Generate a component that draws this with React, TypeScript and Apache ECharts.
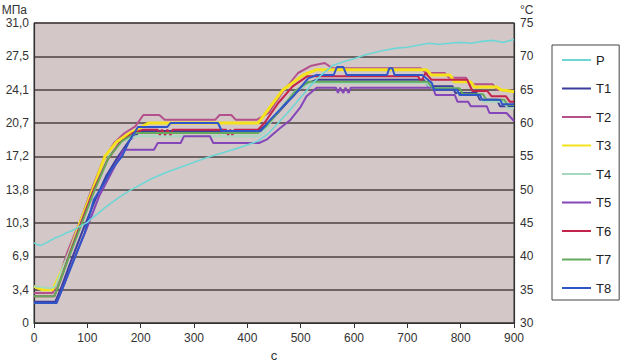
import React, { useEffect, useRef } from "react";
import * as echarts from "echarts";

// ---- data (time, value) ----
const xTicks = [0, 100, 200, 300, 400, 500, 600, 700, 800, 900];
const leftTickLabels = ["0", "3,4", "6,9", "10,3", "13,8", "17,2", "20,7", "24,1", "27,5", "31,0"];
const rightTickLabels = ["30", "35", "40", "45", "50", "55", "60", "65", "70", "75"];

// Pressure, MPa (left axis)
const P: [number, number][] = [
  [0, 8.3], [6, 8.1], [12, 8.0], [20, 8.2], [30, 8.5], [40, 8.8], [50, 9.0], [60, 9.3], [70, 9.5], [80, 9.8],
  [90, 10.1], [100, 10.4], [110, 10.9], [120, 11.3], [130, 11.8], [140, 12.2], [160, 13.0], [180, 13.7],
  [200, 14.3], [220, 14.9], [250, 15.6], [280, 16.2], [300, 16.6], [330, 17.2], [360, 17.7], [390, 18.2],
  [420, 18.8], [440, 19.6], [460, 20.8], [480, 22.0], [500, 23.3], [520, 24.6], [540, 25.7], [560, 26.6],
  [580, 27.0], [600, 27.3], [620, 27.7], [650, 28.1], [680, 28.4], [700, 28.5], [720, 28.7], [740, 28.9],
  [760, 28.8], [780, 28.9], [800, 29.0], [820, 28.9], [840, 29.1], [860, 29.2], [880, 29.0], [900, 29.3],
];

// Temperatures, °C (right axis)
const T1: [number, number][] = [
  [0, 33.2], [40, 33.2], [52, 35.5], [68, 39], [92, 44], [115, 48.5], [135, 52], [158, 55], [180, 57.5],
  [200, 58.8], [420, 58.8], [440, 60], [465, 62.2], [490, 64.5], [515, 66], [530, 66.5], [730, 66.5],
  [740, 65.5], [785, 65.5], [790, 64.5], [830, 64.5], [836, 63.5], [868, 63.5], [874, 62.5], [900, 62.5],
];
const T2: [number, number][] = [
  [0, 34.5], [35, 34.5], [48, 37], [62, 40.5], [85, 45], [108, 50], [130, 54.5], [150, 57], [170, 58.5],
  [190, 59.5], [205, 61.2], [235, 61.2], [245, 60.5], [340, 60.5], [348, 61.2], [370, 61.2], [378, 60.5],
  [418, 60.5], [440, 61.5], [465, 64.5], [495, 67.5], [520, 68.6], [545, 69], [560, 68.2], [725, 68.2],
  [735, 67.5], [770, 67.5], [778, 66.8], [810, 66.8], [818, 65.8], [860, 65.8], [868, 65], [900, 64.8],
];
const T3: [number, number][] = [
  [0, 35.5], [15, 35], [35, 35], [50, 37.5], [64, 40], [86, 45], [110, 50], [133, 55], [155, 57.2],
  [180, 58.5], [200, 59.3], [215, 60], [420, 60], [424, 60.4], [467, 65], [505, 67.2], [530, 68],
  [736, 68], [745, 67.2], [780, 67.2], [788, 66.2], [818, 66.2], [826, 65.4], [868, 65.4], [875, 65], [900, 64.7],
];
const T4: [number, number][] = [
  [0, 35.5], [30, 35.2], [40, 35.5], [55, 38.5], [70, 41.5], [90, 45.5], [115, 50.5], [140, 55], [165, 57.2],
  [190, 58], [420, 58], [430, 58.5], [460, 62], [490, 64.8], [520, 66], [735, 66], [745, 65.2], [790, 65.2],
  [798, 64.2], [835, 64.2], [842, 63.2], [880, 63.2], [888, 62.2], [900, 62.2],
];
const T5: [number, number][] = [
  [0, 33], [42, 33], [55, 35.5], [72, 39], [98, 44], [122, 49], [148, 53], [168, 56], [225, 56], [232, 57],
  [275, 57], [281, 58], [330, 58], [336, 57], [422, 57], [436, 57.5], [461, 59.2], [480, 60.4], [499, 62.3],
  [511, 64], [530, 65.3], [566, 65.3], [570, 64.5], [574, 65.3], [580, 64.5], [584, 65.3], [590, 64.5],
  [594, 65.3], [748, 65.3], [753, 64.2], [789, 64.2], [794, 63.2], [814, 63.2], [819, 62.5], [849, 62.5],
  [854, 61.5], [886, 61.5], [900, 60.3],
];
const T6: [number, number][] = [
  [0, 34], [38, 34], [50, 36.5], [65, 40], [88, 45], [112, 50], [138, 54.5], [160, 57], [185, 58.5],
  [205, 59], [232, 59], [236, 58.2], [240, 59], [246, 58.2], [250, 59], [256, 58.2], [260, 59], [360, 59],
  [364, 58.2], [368, 59], [372, 58.2], [376, 59], [420, 59], [432, 60], [458, 63], [485, 65.5], [512, 67],
  [720, 67], [726, 66.2], [734, 67.5], [745, 66.5], [812, 66.5], [822, 64.8], [850, 64.8], [858, 64],
  [885, 64], [892, 63.2], [900, 63.2],
];
const T7: [number, number][] = [
  [0, 34], [38, 34], [50, 36.5], [66, 40], [90, 45], [114, 50], [140, 54.8], [165, 57.3], [190, 58.5],
  [420, 58.5], [435, 59.5], [462, 62], [490, 64.8], [515, 66.2], [738, 66.2], [748, 65.2], [798, 65.2],
  [804, 64.3], [842, 64.3], [848, 63.5], [882, 63.5], [888, 62.7], [900, 62.7],
];
const T8: [number, number][] = [
  [0, 33], [42, 33], [55, 35.5], [70, 38.5], [95, 43.5], [112, 48.5], [128, 50.5], [145, 53], [165, 55],
  [180, 57.5], [195, 59.4], [250, 59.4], [256, 60], [345, 60], [352, 58.8], [425, 58.8], [442, 60.4],
  [467, 62.5], [486, 64], [514, 66.7], [530, 67.2], [562, 67.2], [568, 68.4], [580, 68.4], [586, 67.2],
  [662, 67.2], [666, 68.2], [672, 68.2], [676, 67.2], [728, 67.2], [746, 66], [750, 65], [793, 65],
  [798, 64.2], [836, 64.2], [840, 63.5], [874, 63.5], [878, 62.8], [900, 62.8],
];

const seriesNames = ["P", "T1", "T2", "T3", "T4", "T5", "T6", "T7", "T8"];
const seriesData = [P, T1, T2, T3, T4, T5, T6, T7, T8];
const seriesColors = ["#6fd6d6", "#3b3d9c", "#b4508c", "#f4e21c", "#a6d8bf", "#8446b8", "#c4244c", "#63aa5c", "#2f55c8"];
const seriesWidths = [1.6, 2, 2, 3, 2, 2, 2, 2, 2];

const LEFT_MAX = 31;
const LEFT_STEP = 31 / 9;

export default function App() {
  const ref = useRef<HTMLDivElement>(null);
  useEffect(() => {
    if (!ref.current) return;
    const chart = echarts.init(ref.current, undefined, { renderer: "svg" });
    const font = "Liberation Sans, Arial, sans-serif";
    chart.setOption({
      animation: false,
      backgroundColor: "#ffffff",
      textStyle: { fontFamily: font },
      grid: {
        left: 34,
        right: 107,
        top: 23,
        bottom: 40,
        outerBoundsMode: "none",
        containLabel: false,
        show: true,
        backgroundColor: "#d3c7c7",
        borderColor: "#3a3a3a",
        borderWidth: 1,
      },
      legend: {
        orient: "vertical",
        left: 552,
        top: 45,
        padding: [8.5, 8, 5.5, 10],
        icon: "rect",
        itemWidth: 29,
        itemHeight: 2,
        itemGap: 15.5,
        borderColor: "#444",
        borderWidth: 1,
        backgroundColor: "#ffffff",
        textStyle: { fontSize: 13, color: "#222", fontFamily: font },
        data: seriesNames,
      },
      xAxis: {
        type: "value",
        min: xTicks[0],
        max: xTicks[xTicks.length - 1],
        interval: 100,
        name: "c",
        nameLocation: "middle",
        nameGap: 26,
        nameTextStyle: { fontSize: 13, color: "#333", fontFamily: font },
        axisLine: { show: true, lineStyle: { color: "#333", width: 1.2 } },
        axisTick: { show: true, inside: false, length: 5, lineStyle: { color: "#333" } },
        axisLabel: { fontSize: 12, color: "#333", margin: 9, fontFamily: font },
        splitLine: { show: false },
      },
      yAxis: [
        {
          type: "value",
          position: "left",
          min: 0,
          max: LEFT_MAX,
          interval: LEFT_STEP,
          name: "МПа",
          nameLocation: "end",
          nameGap: 7,
          nameTextStyle: { fontSize: 12, color: "#333", align: "right", padding: [0, 7, 0, 0], fontFamily: font },
          axisLine: { show: true, lineStyle: { color: "#333", width: 1.2 } },
          axisTick: { show: false },
          axisLabel: {
            fontSize: 12,
            color: "#333",
            margin: 5,
            fontFamily: font,
            formatter: (v: number) => {
              const i = Math.round(v / LEFT_STEP);
              return leftTickLabels[i] ?? "";
            },
          },
          splitLine: { show: false },
        },
        {
          type: "value",
          position: "right",
          min: 30,
          max: 75,
          interval: 5,
          name: "°C",
          nameLocation: "end",
          nameGap: 7,
          nameTextStyle: { fontSize: 12, color: "#333", align: "left", padding: [0, 0, 0, 6], fontFamily: font },
          axisLine: { show: true, lineStyle: { color: "#333", width: 1.2 } },
          axisTick: { show: false },
          axisLabel: {
            fontSize: 12,
            color: "#333",
            margin: 6,
            fontFamily: font,
            formatter: (v: number) => {
              const i = Math.round((v - 30) / 5);
              return rightTickLabels[i] ?? "";
            },
          },
          splitLine: { show: true, lineStyle: { color: "#4d4242", width: 1.5 } },
        },
      ],
      series: seriesNames.map((name, i) => ({
        name,
        type: "line",
        yAxisIndex: i === 0 ? 0 : 1,
        data: seriesData[i],
        showSymbol: false,
        symbol: "none",
        lineStyle: { color: seriesColors[i], width: seriesWidths[i] },
        itemStyle: { color: seriesColors[i] },
        z: i === 0 ? 3 : 2,
      })),
    });
    return () => chart.dispose();
  }, []);
  return (
    <div
      ref={ref}
      style={{ position: "fixed", left: 0, top: 0, width: 621, height: 363, background: "#fff" }}
    />
  );
}
